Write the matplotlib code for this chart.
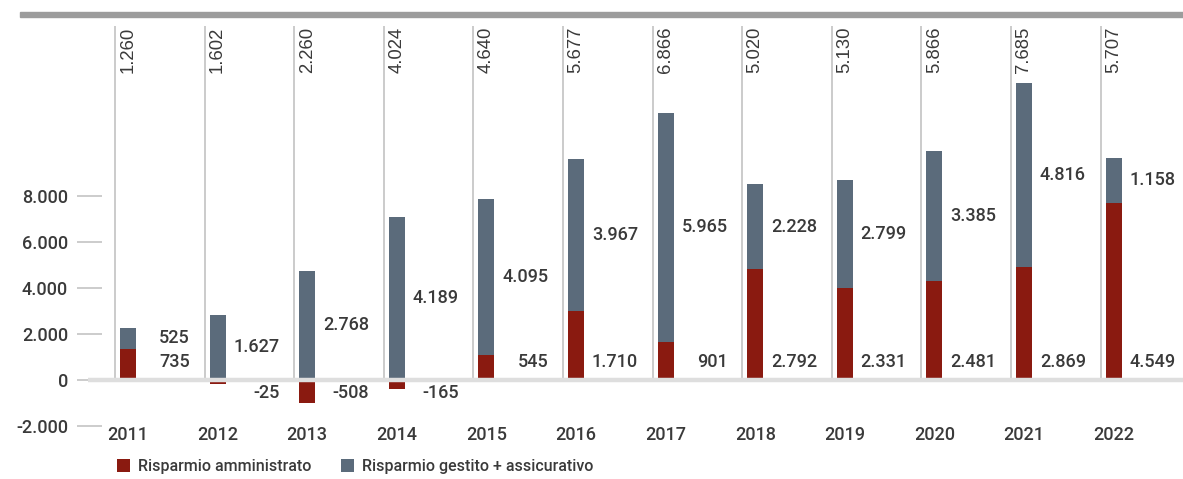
import matplotlib
matplotlib.use("Agg")
import matplotlib.pyplot as plt
from matplotlib.patches import Patch, Rectangle
import numpy as np

# ---- data ----
years = ["2011", "2012", "2013", "2014", "2015", "2016",
         "2017", "2018", "2019", "2020", "2021", "2022"]
# bar heights as drawn in the picture (axis units)
amministrato_bar = [1350, -170, -1000, -405, 1070, 3020, 1670, 4810, 4020, 4310, 4930, 7710]
gestito_bar = [910, 2840, 4755, 7100, 6790, 6600, 9950, 3710, 4680, 5630, 8000, 1930]
# printed labels
amministrato_lbl = ["735", "-25", "-508", "-165", "545", "1.710", "901", "2.792",
                    "2.331", "2.481", "2.869", "4.549"]
gestito_lbl = ["525", "1.627", "2.768", "4.189", "4.095", "3.967", "5.965", "2.228",
               "2.799", "3.385", "4.816", "1.158"]
totale_lbl = ["1.260", "1.602", "2.260", "4.024", "4.640", "5.677", "6.866", "5.020",
              "5.130", "5.866", "7.685", "5.707"]
yticks = [-2000, 0, 2000, 4000, 6000, 8000]
ytick_lbl = ["-2.000", "0", "2.000", "4.000", "6.000", "8.000"]
series_names = ["Risparmio amministrato", "Risparmio gestito + assicurativo"]

RED = "#8a1a10"
BLUE = "#5b6b7b"
TXT = "#3a3a3a"
LBL_FONT = "Roboto"

W, H = 1183, 479
fig = plt.figure(figsize=(W / 100, H / 100), dpi=100)

# axes geometry (pixels)
ax_left, ax_right = 102, 1183
ax_top, ax_bot = 17, 445
x0_px, dx_px = 128, 89.6
zero_px, px_per_unit = 380, 46 / 2000

ax = fig.add_axes([ax_left / W, (H - ax_bot) / H, (ax_right - ax_left) / W, (ax_bot - ax_top) / H])
ax.set_xlim((ax_left - x0_px) / dx_px, (ax_right - x0_px) / dx_px)
ax.set_ylim(-(ax_bot - zero_px) / px_per_unit, (zero_px - ax_top) / px_per_unit)

x = np.arange(len(years))
amm = np.array(amministrato_bar, dtype=float)
ges = np.array(gestito_bar, dtype=float)
bw = 16 / dx_px
bottom_ges = np.where(amm > 0, amm, 0)

# vertical guide lines
line_top = (zero_px - 26) / px_per_unit
ax.vlines(x - 13 / dx_px, 0, line_top, color="#cbcbcb", lw=1.4, zorder=1)

ax.bar(x, amm, width=bw, color=RED, zorder=2, label=series_names[0])
ax.bar(x, ges, width=bw, bottom=bottom_ges, color=BLUE, zorder=2, label=series_names[1])

# zero line
ax.plot([(88 - x0_px) / dx_px, (ax_right - x0_px) / dx_px], [0, 0], color="#dedede",
        lw=3.2, zorder=3, clip_on=False, solid_capstyle="butt")

# labels
dx_lbl = 62 / dx_px
y_red_pos = (zero_px - 362) / px_per_unit
y_red_neg = -(393 - zero_px) / px_per_unit
for i in range(len(years)):
    yr = y_red_pos if amm[i] > 0 else y_red_neg
    ax.text(x[i] + dx_lbl, yr, amministrato_lbl[i], ha="right", va="center",
            fontsize=13, color=TXT, family=LBL_FONT, fontweight="medium")
    yb = bottom_ges[i] + ges[i] / 2
    ax.text(x[i] + dx_lbl, yb, gestito_lbl[i], ha="right", va="center",
            fontsize=13, color=TXT, family=LBL_FONT, fontweight="medium")
    ax.text(x[i], (zero_px - 27) / px_per_unit, totale_lbl[i], rotation=90,
            ha="center", va="top", fontsize=13.3, color=TXT, family="Liberation Sans")
    ax.text(x[i], -(435 - zero_px) / px_per_unit, years[i], ha="center", va="center",
            fontsize=13, color=TXT, family=LBL_FONT, fontweight="medium")

ax.set_xticks([])
ax.set_yticks(yticks)
ax.set_yticklabels(ytick_lbl, family=LBL_FONT, fontsize=13, color=TXT, fontweight="medium")
ax.tick_params(axis="y", length=18, width=1.2, color="#c4c4c4", pad=6.5)
for s in ax.spines.values():
    s.set_visible(False)

# top band
fig.patches.append(Rectangle((20 / W, (H - 17.3) / H), (W - 20) / W, 5 / H,
                             transform=fig.transFigure, color="#9c9c9c", zorder=0))

handles = [Patch(facecolor=RED, edgecolor="none"), Patch(facecolor=BLUE, edgecolor="none")]
fig.legend(handles, series_names, loc="center left",
           bbox_to_anchor=(117 / W, (H - 466.5) / H), ncol=2, frameon=False,
           borderaxespad=0, borderpad=0, handlelength=0.8, handleheight=0.8,
           handletextpad=0.5, columnspacing=1.9,
           prop={"family": LBL_FONT, "size": 11.5, "weight": "medium"}, labelcolor=TXT)

fig.savefig("out.png", dpi=100)
